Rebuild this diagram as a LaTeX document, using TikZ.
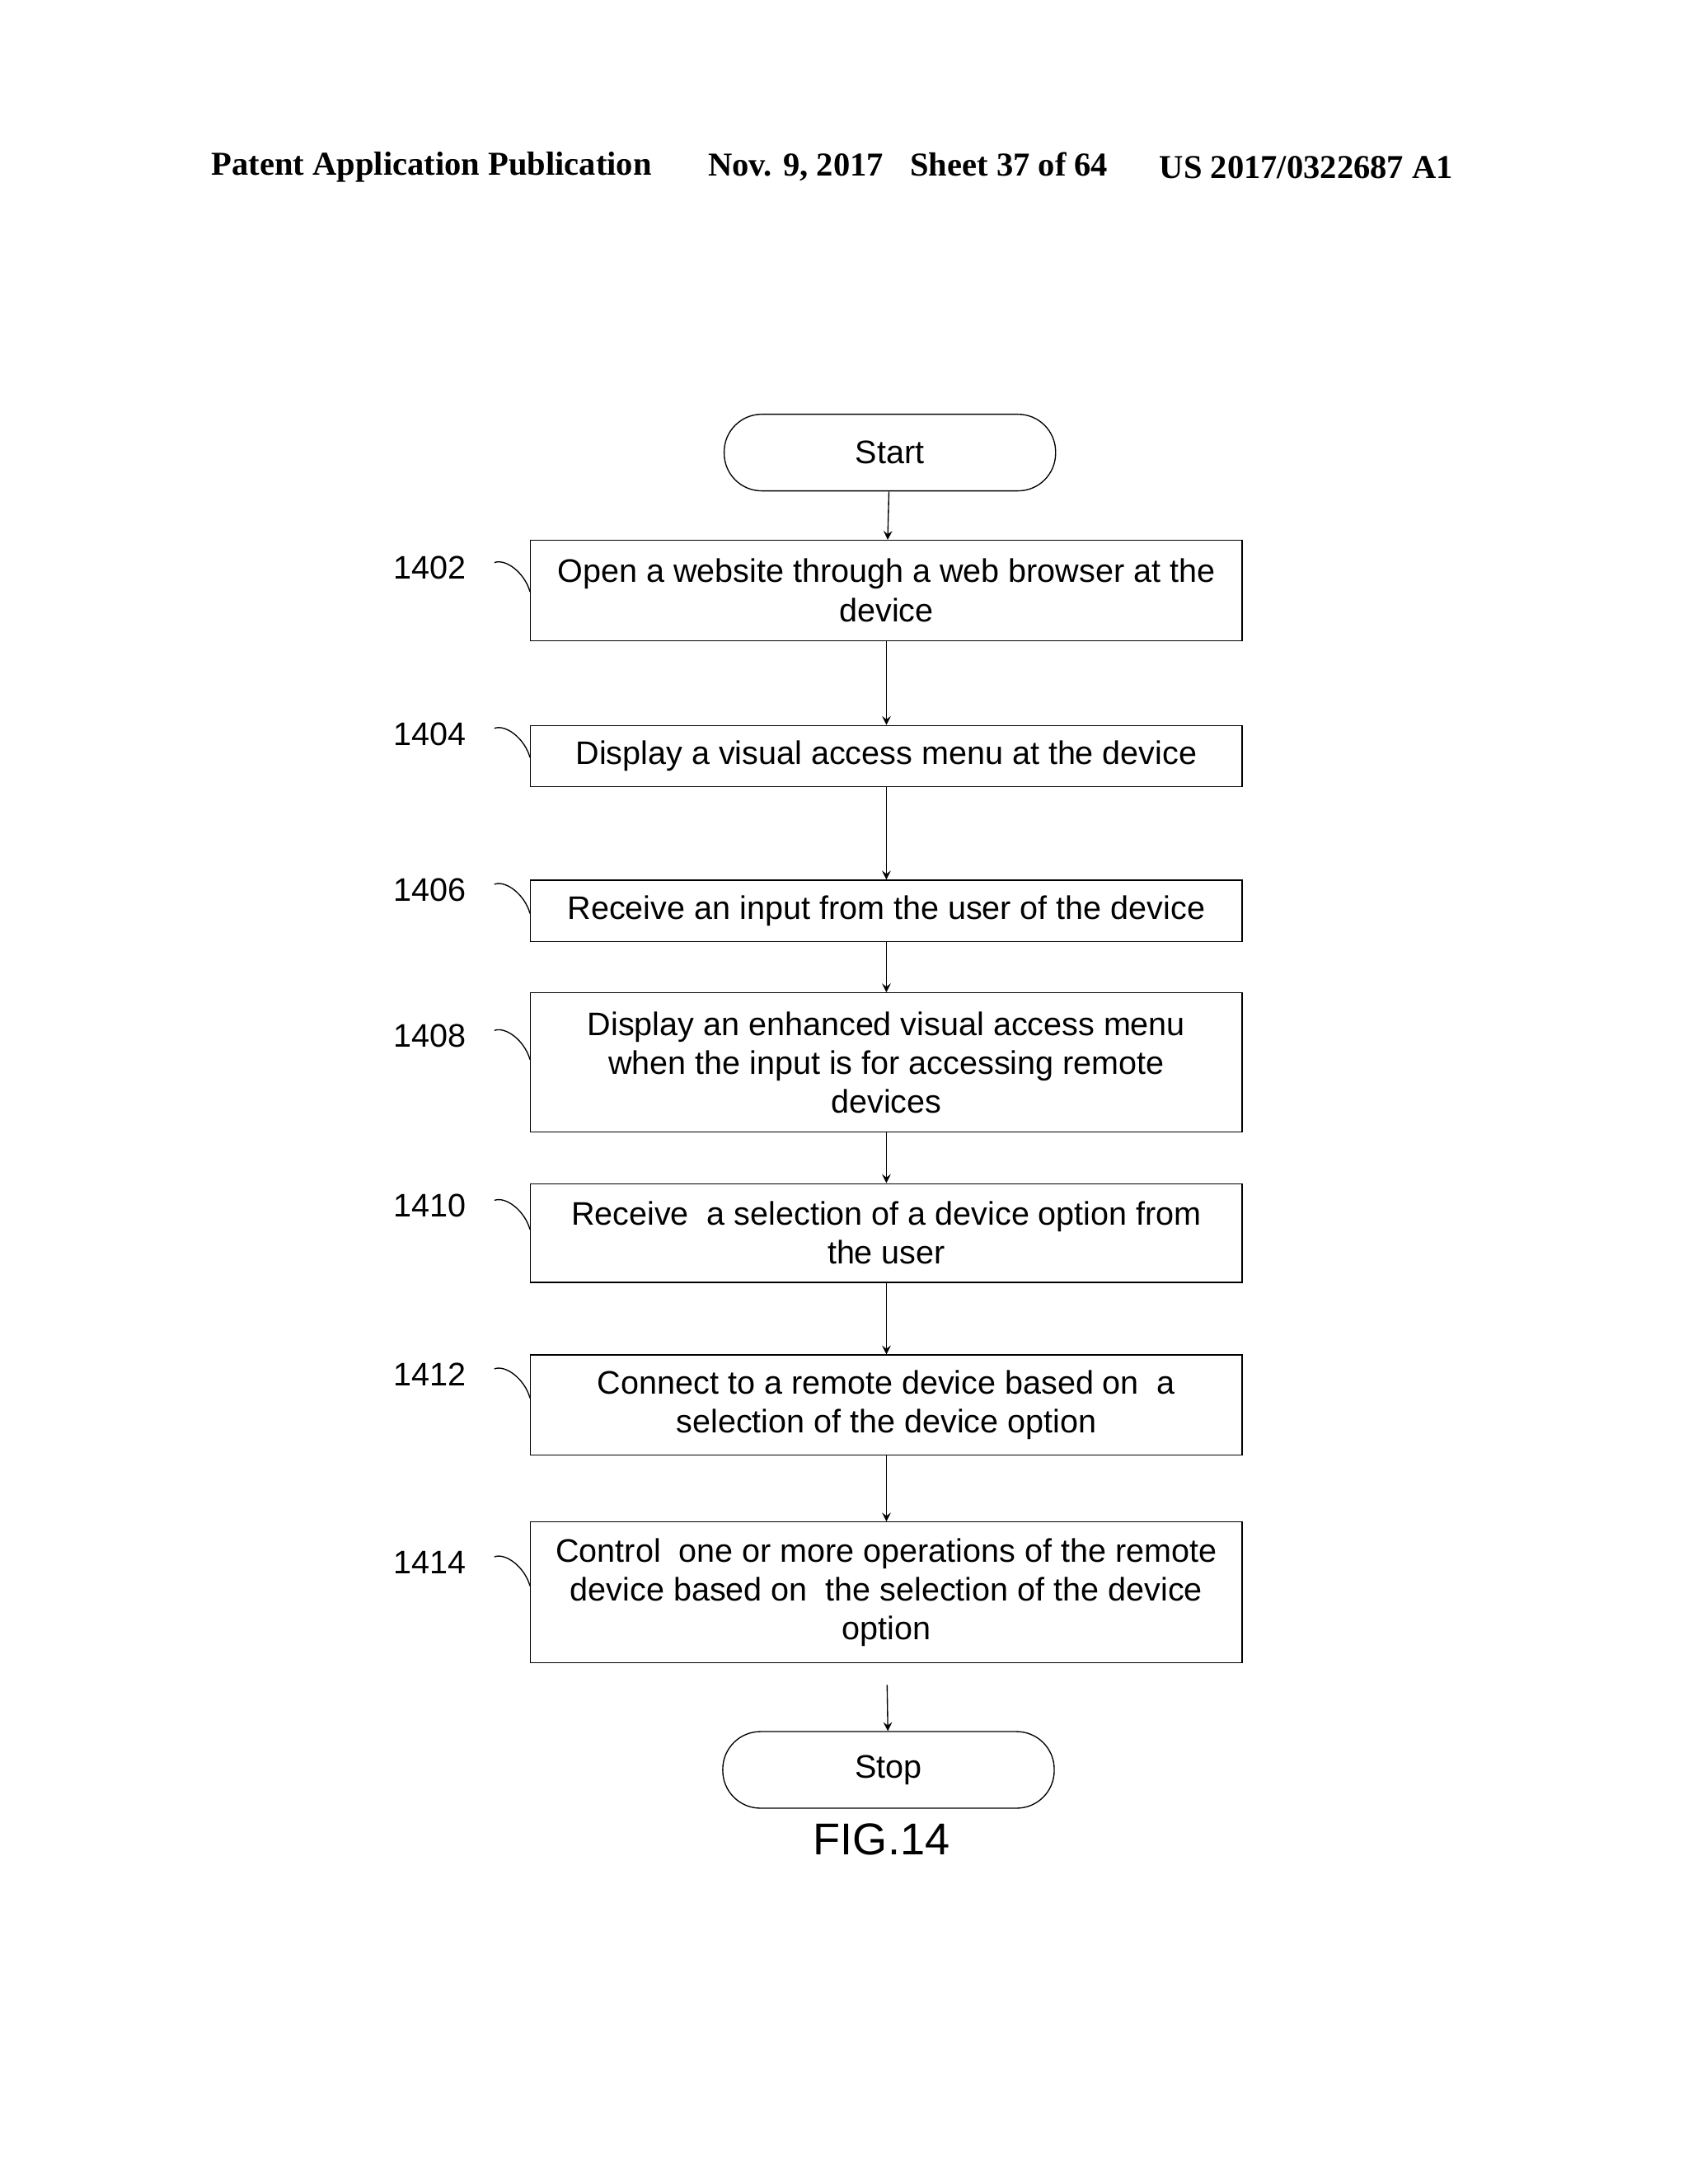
\documentclass[tikz,border=0pt]{standalone}
\usepackage{fontspec}
\setmainfont{Liberation Sans}
\newfontfamily\hdr{Liberation Serif}
\usetikzlibrary{calc}
\begin{document}
\begin{tikzpicture}[x=0.5pt,y=-0.5pt,
  box/.style={draw,thin,minimum width=255.5pt,align=center,font=\fontsize{11.7}{14}\selectfont,inner sep=0pt},
  term/.style={draw,thin,rounded corners=13.5pt,minimum width=119pt,minimum height=27.5pt,font=\fontsize{11.7}{14}\selectfont},
  lab/.style={font=\fontsize{11.7}{14}\selectfont},
  hd/.style={font=\hdr\bfseries\fontsize{12}{14}\selectfont},
  arr/.style={->,thin,>=stealth},
  sq/.style={thin}]
\useasboundingbox (0,0) rectangle (1212,1568.4);
\node[hd] at (310,120) {Patent Application Publication};
\node[hd] at (652,120) {Nov. 9, 2017\hspace{0.8em}Sheet 37 of 64};
\node[hd] at (938,120) {US 2017/0322687 A1};

\node[term] (start) at (639,325) {Start};
\node[box,minimum height=36pt] (b1) at (636.5,424) {Open a website through a web browser at the\\device};
\node[box,minimum height=22pt] (b2) at (636.5,543) {Display a visual access menu at the device};
\node[box,minimum height=22pt] (b3) at (636.5,654) {Receive an input from the user of the device};
\node[box,minimum height=50pt] (b4) at (636.5,763) {Display an enhanced visual access menu\\when the input is for accessing remote\\devices};
\node[box,minimum height=35.5pt] (b5) at (636.5,885.5) {Receive\ \ a selection of a device option from\\the user};
\node[box,minimum height=36pt] (b6) at (636.5,1009) {Connect to a remote device based on\ \ a\\selection of the device option};
\node[box,minimum height=50.5pt] (b7) at (636.5,1143.5) {Control\ \ one or more operations of the remote\\device based on\ \ the selection of the device\\option};
\node[term] (stop) at (638,1271) {Stop};
\node[font=\fontsize{16}{19}\selectfont] (fig) at (633,1321) {FIG.14};
\coordinate (gap) at (637,1210);

\draw[arr] (start) -- (b1);
\draw[arr] (b1) -- (b2);
\draw[arr] (b2) -- (b3);
\draw[arr] (b3) -- (b4);
\draw[arr] (b4) -- (b5);
\draw[arr] (b5) -- (b6);
\draw[arr] (b6) -- (b7);
\draw[arr] (gap) -- (stop);

\foreach \n/\b/\y in {1402/b1/408,1404/b2/527,1406/b3/639,1408/b4/744,1410/b5/866,1412/b6/987,1414/b7/1122}{
  \node[lab,anchor=east] (l\n) at (342,\y) {\n};
  \draw[sq] ($(l\n.east)+(13,-4)$) .. controls +(8,-3) and +(-4,-14) .. ($(\b.west |- l\n.east)+(0,17)$);
}
\end{tikzpicture}
\end{document}
